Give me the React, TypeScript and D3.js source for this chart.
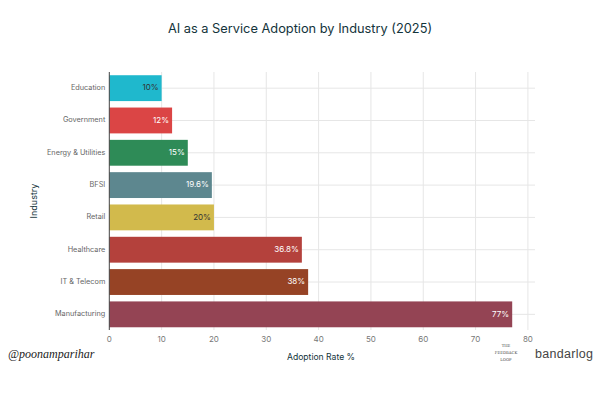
import React, { useEffect, useRef } from 'react';
import * as d3 from 'd3';

const industries = ['Education', 'Government', 'Energy & Utilities', 'BFSI', 'Retail', 'Healthcare', 'IT & Telecom', 'Manufacturing'];
const adoption = [10, 12, 15, 19.6, 20, 36.8, 38, 77];
const barLabels = ['10%', '12%', '15%', '19.6%', '20%', '36.8%', '38%', '77%'];
const barColors = ['#1FB8CD', '#DB4545', '#2E8B57', '#5D878F', '#D2BA4C', '#B4413C', '#964325', '#944454'];
const labelColors = ['#333', '#fff', '#fff', '#fff', '#333', '#fff', '#fff', '#fff'];
const xTicks = [0, 10, 20, 30, 40, 50, 60, 70, 80];

function App() {
    const ref = useRef<SVGSVGElement>(null);

    useEffect(() => {
        const svg = d3.select(ref.current);
        svg.selectAll('*').remove();

        const font = 'Inter, Roboto, sans-serif';
        const left = 109.3;
        const x = d3.scaleLinear().domain([0, 80]).range([left, 527.9]);
        const y = d3.scaleBand<string>().domain(industries).range([72, 330.5]).paddingInner(0.2).paddingOuter(0.1);

        svg.append('rect').attr('width', 600).attr('height', 400).attr('fill', '#fff');

        // title
        svg.append('text')
            .attr('x', 300).attr('y', 33)
            .attr('text-anchor', 'middle')
            .style('font-family', font).style('font-size', '12.8px').style('fill', '#13343B')
            .text('AI as a Service Adoption by Industry (2025)');

        // grid
        const grid = svg.append('g');
        grid.selectAll('line.v').data(xTicks.slice(1)).enter().append('line')
            .attr('x1', d => x(d)).attr('x2', d => x(d))
            .attr('y1', 72).attr('y2', 330)
            .attr('stroke', '#e6e6e6').attr('stroke-width', 1);
        grid.selectAll('line.h').data(industries).enter().append('line')
            .attr('x1', left).attr('x2', 535)
            .attr('y1', d => (y(d) as number) + y.bandwidth() / 2)
            .attr('y2', d => (y(d) as number) + y.bandwidth() / 2)
            .attr('stroke', '#e6e6e6').attr('stroke-width', 1);

        // bars
        svg.selectAll('rect.bar').data(industries).enter().append('rect')
            .attr('x', left)
            .attr('y', d => y(d) as number)
            .attr('width', (d, i) => x(adoption[i]) - left)
            .attr('height', y.bandwidth())
            .attr('fill', (d, i) => barColors[i]);

        // labels inside bars
        svg.selectAll('text.val').data(industries).enter().append('text')
            .attr('x', (d, i) => x(adoption[i]) - 3)
            .attr('y', d => (y(d) as number) + y.bandwidth() / 2)
            .attr('text-anchor', 'end')
            .attr('dominant-baseline', 'middle')
            .style('font-family', font).style('font-size', '8px')
            .style('fill', (d, i) => labelColors[i])
            .text((d, i) => barLabels[i]);

        // y axis line
        svg.append('line')
            .attr('x1', left).attr('x2', left).attr('y1', 72).attr('y2', 330)
            .attr('stroke', '#444').attr('stroke-width', 1);

        // category labels
        svg.selectAll('text.cat').data(industries).enter().append('text')
            .attr('x', left - 4)
            .attr('y', d => (y(d) as number) + y.bandwidth() / 2)
            .attr('text-anchor', 'end')
            .attr('dominant-baseline', 'middle')
            .style('font-family', font).style('font-size', '7.3px').style('fill', '#666')
            .text(d => d);

        // x tick labels
        svg.selectAll('text.tick').data(xTicks).enter().append('text')
            .attr('x', d => x(d))
            .attr('y', 342)
            .attr('text-anchor', 'middle')
            .style('font-family', font).style('font-size', '8px').style('fill', '#777')
            .text(d => d);

        // axis titles
        svg.append('text')
            .attr('x', 321).attr('y', 360)
            .attr('text-anchor', 'middle')
            .style('font-family', font).style('font-size', '8.6px').style('fill', '#13343B')
            .text('Adoption Rate %');
        svg.append('text')
            .attr('transform', 'translate(37, 201) rotate(-90)')
            .attr('text-anchor', 'middle')
            .style('font-family', font).style('font-size', '9px').style('fill', '#13343B')
            .text('Industry');

        // watermarks
        svg.append('text')
            .attr('x', 8).attr('y', 358)
            .style('font-family', 'cursive').style('font-style', 'italic').style('font-size', '12px').style('fill', '#222')
            .text('@poonamparihar');
        const fb = svg.append('g').style('font-family', 'DejaVu Serif, serif').style('font-size', '3.8px').style('fill', '#444').attr('text-anchor', 'middle');
        fb.append('text').attr('x', 506).attr('y', 347).text('THE');
        fb.append('text').attr('x', 506).attr('y', 354).text('FEEDBACK');
        fb.append('text').attr('x', 506).attr('y', 361).text('LOOP');
        svg.append('text')
            .attr('x', 535).attr('y', 358)
            .style('font-family', 'Liberation Sans, sans-serif').style('font-size', '12.5px').style('fill', '#444')
            .style('letter-spacing', '0.3px')
            .text('bandarlog');
    }, []);

    return (
        <svg ref={ref} width={600} height={400} style={{ display: 'block', position: 'absolute', left: 0, top: 0 }}></svg>
    );
}

export default App;
